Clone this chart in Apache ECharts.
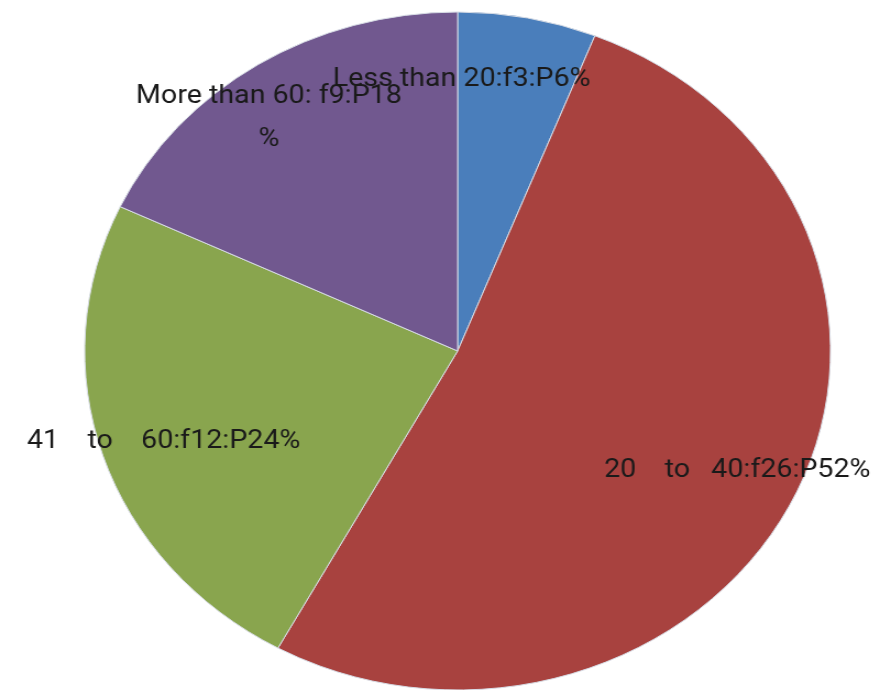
<!DOCTYPE html>
<html>
<head>
<meta charset="utf-8">
<script src="https://cdn.jsdelivr.net/npm/echarts@6/dist/echarts.min.js"></script>
<style>
    html, body { margin: 0; padding: 0; background: #fff; overflow: hidden; }
    /* the source picture is stretched sideways, so the pie is widened with css */
    #main { position: absolute; left: 0; top: 0; width: 806px; height: 690px; transform: scaleX(1.1); transform-origin: 0 0; }
</style>
</head>
<body>
<div id="main"></div>
<script>
    var categories = ["Less than 20", "20  to  40", "41  to  60", "More than 60"];
    var frequency = [3, 26, 12, 9];
    var percent = [6, 52, 24, 18];
    var labelText = [
        "Less than 20:f3:P6%",
        "20    to   40:f26:P52%",
        "41    to    60:f12:P24%",
        "More than 60: f9:P18\n%"
    ];
    var colors = ["#4a7ebb", "#a8423f", "#89a54e", "#71588f"];

    // small nudges so the labels sit where excel's "best fit" put them
    var labelNudge = [[-49, 5], [0, 0], [0, 4], [-21, 4]];

    var pieData = [];
    var labelData = [];
    for (var i = 0; i < categories.length; i++)
    {
        pieData.push({name: categories[i], value: frequency[i], itemStyle: {color: colors[i]}});
        labelData.push({name: categories[i], value: frequency[i], label: {offset: labelNudge[i]}});
    }

    var chart = echarts.init(document.getElementById("main"));
    chart.setOption({
        animation: false,
        backgroundColor: "#ffffff",
        series: [
            {
                type: "pie",
                center: [416, 351],
                radius: [0, 339],
                startAngle: 90,
                clockwise: true,
                silent: true,
                label: {show: false},
                labelLine: {show: false},
                itemStyle: {borderColor: "#d8dde6", borderWidth: 1},
                data: pieData
            },
            {
                // transparent ring that only carries the labels further out
                type: "pie",
                center: [416, 351],
                radius: [217, 339],
                startAngle: 90,
                clockwise: true,
                silent: true,
                avoidLabelOverlap: false,
                labelLayout: {hideOverlap: false},
                itemStyle: {color: "rgba(0,0,0,0)"},
                label: {
                    show: true,
                    position: "inside",
                    fontFamily: "Roboto",
                    fontSize: 26,
                    lineHeight: 43,
                    color: "#1a1a1a",
                    align: "center",
                    overflow: "none",
                    formatter: function (p)
                    {
                        return labelText[p.dataIndex];
                    }
                },
                labelLine: {show: false},
                data: labelData
            }
        ]
    });
</script>
</body>
</html>
